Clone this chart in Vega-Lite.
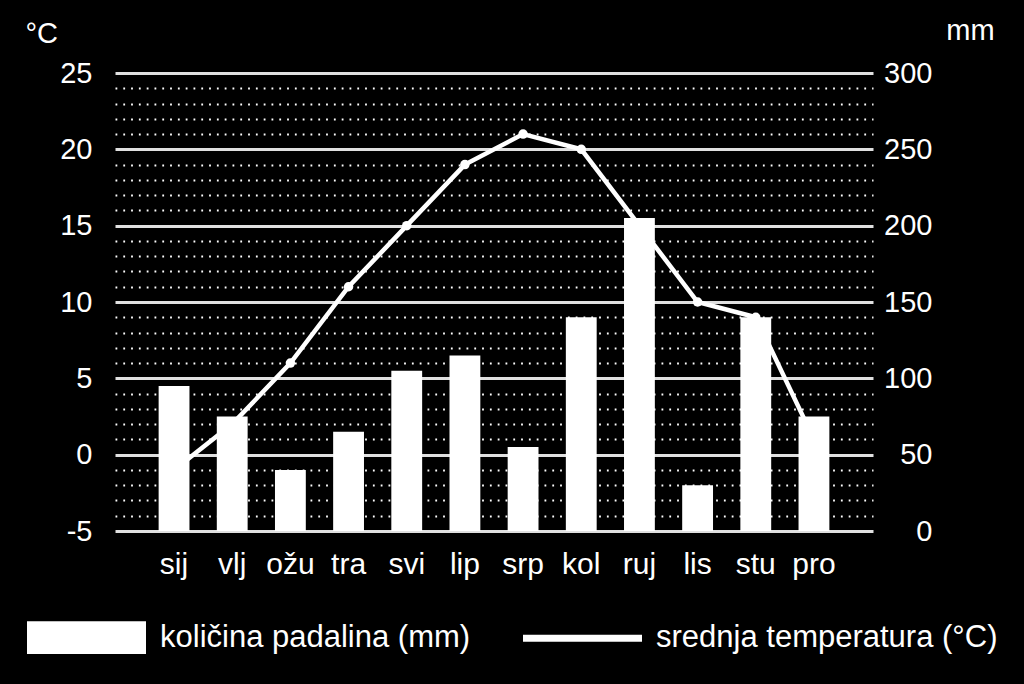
{
  "$schema": "https://vega.github.io/schema/vega-lite/v6.json",
  "autosize": "none",
  "width": 758,
  "height": 458,
  "padding": {"left": 115, "top": 73, "right": 151, "bottom": 153},
  "background": "black",
  "config": {
    "view": {"stroke": null},
    "font": "Liberation Sans"
  },
  "data": {
    "values": [
      {"month": "sij", "temp": -1, "precip": 95},
      {"month": "vlj", "temp": 2, "precip": 75},
      {"month": "ožu", "temp": 6, "precip": 40},
      {"month": "tra", "temp": 11, "precip": 65},
      {"month": "svi", "temp": 15, "precip": 105},
      {"month": "lip", "temp": 19, "precip": 115},
      {"month": "srp", "temp": 21, "precip": 55},
      {"month": "kol", "temp": 20, "precip": 140},
      {"month": "ruj", "temp": 15, "precip": 205},
      {"month": "lis", "temp": 10, "precip": 30},
      {"month": "stu", "temp": 9, "precip": 140},
      {"month": "pro", "temp": 1, "precip": 75}
    ]
  },
  "encoding": {
    "x": {
      "field": "month",
      "type": "nominal",
      "sort": null,
      "scale": {"paddingInner": 0.47, "paddingOuter": 0.75},
      "axis": {
        "title": null,
        "domain": false,
        "ticks": false,
        "labelAngle": 0,
        "labelFontSize": 30,
        "labelColor": "white",
        "labelFont": "Liberation Sans",
        "labelPadding": 18
      }
    }
  },
  "layer": [
    {
      "mark": {"type": "line", "color": "white", "strokeWidth": 4.5, "point": {"filled": true, "size": 90, "color": "white"}},
      "encoding": {
        "y": {
          "field": "temp",
          "type": "quantitative",
          "scale": {"domain": [-5, 25], "nice": false, "zero": false},
          "axis": {
            "orient": "left",
            "values": [-5, -4, -3, -2, -1, 0, 1, 2, 3, 4, 5, 6, 7, 8, 9, 10, 11, 12, 13, 14, 15, 16, 17, 18, 19, 20, 21, 22, 23, 24, 25],
            "labelExpr": "datum.value % 5 === 0 ? '' + datum.value : ''",
            "labelOverlap": false,
            "labelFlush": false,
            "labelBound": false,
            "grid": true,
            "gridColor": {"condition": {"test": "datum.value % 5 === 0", "value": "#e0e0e0"}, "value": "white"},
            "gridWidth": {"condition": {"test": "datum.value % 5 === 0", "value": 3.2}, "value": 1.8},
            "gridDash": {"condition": {"test": "datum.value % 5 === 0", "value": []}, "value": [1.8, 6]},
            "gridOpacity": 1,
            "domain": false,
            "ticks": false,
            "labelFontSize": 29,
            "labelColor": "white",
            "labelFont": "Liberation Sans",
            "labelPadding": 23,
            "title": "°C",
            "titleAngle": 0,
            "titleX": -90,
            "titleY": -40,
            "titleAlign": "left",
            "titleBaseline": "middle",
            "titleFontSize": 29,
            "titleFontWeight": "normal",
            "titleColor": "white",
            "titleFont": "Liberation Sans"
          }
        },
        "color": {"datum": "srednja temperatura (°C)"}
      }
    },
    {
      "mark": {"type": "bar"},
      "encoding": {
        "y": {
          "field": "precip",
          "type": "quantitative",
          "scale": {"domain": [0, 300], "nice": false},
          "axis": {
            "orient": "right",
            "values": [0, 50, 100, 150, 200, 250, 300],
            "grid": false,
            "domain": false,
            "ticks": false,
            "labelFlush": false,
            "labelOverlap": false,
            "labelAlign": "right",
            "labelPadding": 59,
            "labelFontSize": 29,
            "labelColor": "white",
            "labelFont": "Liberation Sans",
            "title": "mm",
            "titleAngle": 0,
            "titleX": 97,
            "titleY": -43,
            "titleAlign": "center",
            "titleBaseline": "middle",
            "titleFontSize": 29,
            "titleFontWeight": "normal",
            "titleColor": "white",
            "titleFont": "Liberation Sans"
          }
        },
        "color": {
          "datum": "količina padalina (mm)",
          "scale": {"domain": ["količina padalina (mm)", "srednja temperatura (°C)"], "range": ["white", "white"]},
          "legend": {
            "orient": "none",
            "legendX": -88,
            "legendY": 505,
            "direction": "horizontal",
            "columns": 2,
            "title": null,
            "symbolSize": 14161,
            "labelFontSize": 31,
            "labelColor": "white",
            "labelFont": "Liberation Sans",
            "labelOffset": 14,
            "columnPadding": 52,
            "labelLimit": 600,
            "padding": 0,
            "symbolStrokeWidth": 0,
            "encode": {
              "symbols": {
                "update": {
                  "shape": {"signal": "datum.value === 'količina padalina (mm)' ? 'M-1,-0.275H1V0.275H-1Z' : 'M-1,-0.06H1V0.06H-1Z'"},
                  "fill": {"value": "white"},
                  "stroke": {"value": "transparent"},
                  "opacity": {"value": 1}
                }
              }
            }
          }
        }
      }
    }
  ],
  "resolve": {"scale": {"y": "independent"}}
}
